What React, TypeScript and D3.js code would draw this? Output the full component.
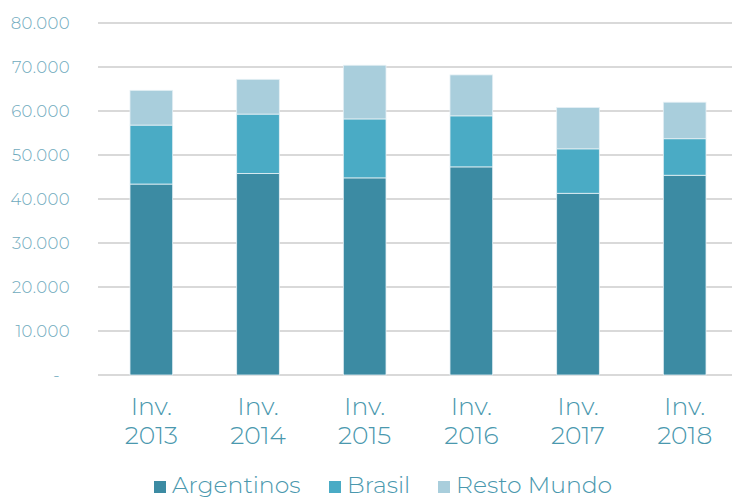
import React from 'react';
import * as d3 from 'd3';

const categories = ['Inv. 2013', 'Inv. 2014', 'Inv. 2015', 'Inv. 2016', 'Inv. 2017', 'Inv. 2018'];
const seriesNames = ['Argentinos', 'Brasil', 'Resto Mundo'];
const argentinos = [43400, 45800, 44800, 47300, 41300, 45400];
const brasil = [13400, 13500, 13400, 11600, 10100, 8300];
const restoMundo = [7900, 7900, 12200, 9300, 9400, 8300];
const yTicks = [0, 10000, 20000, 30000, 40000, 50000, 60000, 70000, 80000];
const colors = ['#3c8ba3', '#4aabc5', '#a9cedc'];

const W = 732;
const H = 498;

const App = () => {
  const rows = categories.map((c, i) => ({
    cat: c,
    Argentinos: argentinos[i],
    Brasil: brasil[i],
    'Resto Mundo': restoMundo[i],
  }));
  const stacked = d3.stack<any>().keys(seriesNames)(rows);

  const x = d3.scaleBand().domain(categories).range([98, 738]).paddingInner(0.6).paddingOuter(0.3);
  const y = d3.scaleLinear().domain([0, 80000]).range([375, 23]);
  const fmt = (v: number) => (v === 0 ? '-' : d3.format(',')(v).replace(/,/g, '.'));
  const font = "'Montserrat', 'Open Sans', sans-serif";

  const legendX = [154, 329, 438];

  return (
    <svg width={W} height={H} style={{ position: 'absolute', left: 0, top: 0 }} fontFamily={font}>
      {yTicks.map((t) => (
        <g key={t}>
          <line x1={98} x2={W} y1={y(t)} y2={y(t)} stroke="#d9d9d9" strokeWidth={2} />
          <text x={t === 0 ? 60 : 70} y={y(t)} dy="0.35em" textAnchor="end" fontSize={16.5} fill="#6faabd" fontWeight={300} letterSpacing={0.4}>
            {fmt(t)}
          </text>
        </g>
      ))}
      {stacked.map((s, si) => (
        <g key={s.key} fill={colors[si]}>
          {s.map((d, i) => (
            <rect
              key={i}
              x={x(categories[i])}
              width={x.bandwidth()}
              y={y(d[1])}
              height={y(d[0]) - y(d[1])}
              stroke="#e6f1f5"
              strokeWidth={0.8}
            />
          ))}
        </g>
      ))}
      {categories.map((c) => {
        const [a, b] = c.split(' ');
        const cx = (x(c) as number) + x.bandwidth() / 2;
        return (
          <text key={c} x={cx} textAnchor="middle" fontSize={25} fill="#4a98ae" fontWeight={300}>
            <tspan x={cx} y={415}>{a}</tspan>
            <tspan x={cx} y={444}>{b}</tspan>
          </text>
        );
      })}
      {seriesNames.map((n, i) => (
        <g key={n}>
          <rect x={legendX[i]} y={481} width={12} height={12} fill={colors[i]} />
          <text x={legendX[i] + 18} y={493} fontSize={23.5} fill="#4a98ae" fontWeight={300}>
            {n}
          </text>
        </g>
      ))}
    </svg>
  );
};

export default App;
